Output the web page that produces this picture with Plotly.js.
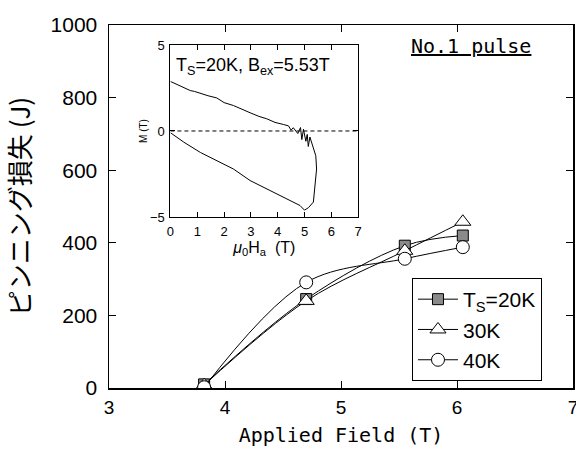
<!DOCTYPE html>
<html>
<head>
<meta charset="utf-8">
<script src="https://cdn.plot.ly/plotly-3.0.1.min.js"></script>
<style>html,body{margin:0;padding:0;background:#fff;}</style>
</head>
<body>
<div id="chart" style="width:576px;height:450px;"></div>
<script>
// Main chart data
const fieldT = [3.82, 4.70, 5.55, 6.05];
const loss20K = [10, 245, 392, 420];
const loss30K = [8, 240, 378, 458];
const loss40K = [2, 291, 356, 388];
const seriesNames = ['T<sub>S</sub>=20K', '30K', '40K'];

// Inset M-H loop data (T_S=20K, B_ex=5.53T)
const insetH = [0, 0.5, 1.12, 1.73, 2.35, 2.97, 3.59, 4.21, 4.83, 5.0, 5.15, 5.33, 5.39, 5.45, 5.42, 5.33, 5.2, 5.14, 5.1, 5.05, 4.96, 4.9, 4.85, 4.75, 4.58, 4.5, 4.4, 4.21, 3.9, 3.59, 3.3, 2.97, 2.6, 2.35, 2.0, 1.73, 1.4, 1.12, 0.9, 0.74, 0.4, 0];
const insetM = [-0.1, -0.65, -1.25, -1.73, -2.21, -2.88, -3.37, -3.85, -4.33, -4.6, -4.45, -4.13, -3.17, -2.21, -1.44, -0.96, -0.35, -0.9, -0.2, -0.6, 0.1, -0.5, 0.2, -0.15, 0.19, 0.05, 0.3, 0.38, 0.5, 0.71, 0.85, 1.06, 1.3, 1.48, 1.65, 1.92, 2.05, 2.21, 2.3, 2.35, 2.6, 2.88];
const zeroLineH = [0, 7];
const zeroLineM = [0, 0];

const tickFont = {family: 'Liberation Sans Narrow, Liberation Sans, Arial', color: '#000'};

const traces = [
  {x: fieldT, y: loss20K, name: seriesNames[0], mode: 'lines+markers', line: {color: '#000', width: 1, shape: 'spline'},
   marker: {symbol: 'square', size: 11, color: '#8a8a8a', line: {color: '#000', width: 1}}},
  {x: fieldT, y: loss30K, name: seriesNames[1], mode: 'lines+markers', line: {color: '#000', width: 1, shape: 'spline'},
   marker: {symbol: 'triangle-up', size: 14, color: '#fff', line: {color: '#000', width: 1}}},
  {x: fieldT, y: loss40K, name: seriesNames[2], mode: 'lines+markers', line: {color: '#000', width: 1, shape: 'spline'},
   marker: {symbol: 'circle', size: 13, color: '#fff', line: {color: '#000', width: 1}}},
  {x: zeroLineH, y: zeroLineM, xaxis: 'x2', yaxis: 'y2', mode: 'lines', showlegend: false, hoverinfo: 'skip',
   line: {color: '#000', width: 1, dash: '4px,3px'}},
  {x: insetH, y: insetM, xaxis: 'x2', yaxis: 'y2', mode: 'lines', showlegend: false,
   line: {color: '#000', width: 1}}
];

const layout = {
  width: 576, height: 450,
  margin: {l: 109, r: 3, t: 25, b: 62},
  paper_bgcolor: '#fff', plot_bgcolor: '#fff',
  showlegend: true,
  legend: {x: 0.653, y: 0.303, xanchor: 'left', yanchor: 'top', bgcolor: '#fff', bordercolor: '#000', borderwidth: 1,
           font: {family: 'Liberation Sans Narrow, Liberation Sans, Arial', size: 21, color: '#000'}, itemwidth: 40, tracegroupgap: 0},
  xaxis: {range: [3, 7], tickvals: [3, 4, 5, 6, 7], ticks: 'inside', ticklen: 7, tickwidth: 1, tickcolor: '#000',
          showline: true, linecolor: '#000', linewidth: 1.5, mirror: 'ticks', showgrid: false, zeroline: false,
          tickfont: Object.assign({size: 19}, tickFont), ticklabelstandoff: 2, ticklabeloverflow: 'allow',
          title: {text: 'Applied Field (T)', font: {family: 'DejaVu Sans Mono, monospace', size: 20, color: '#000'}, standoff: 10}},
  yaxis: {range: [0, 1000], tickvals: [0, 200, 400, 600, 800, 1000], ticks: 'inside', ticklen: 7, tickwidth: 1, tickcolor: '#000',
          showline: true, linecolor: '#000', linewidth: 1.5, mirror: 'ticks', showgrid: false, zeroline: false,
          tickfont: Object.assign({size: 21}, tickFont), ticklabelstandoff: 6,
          title: {text: 'ピンニング損失 (J)', font: {family: 'Noto Sans CJK JP', size: 26, color: '#000'}, standoff: 12}},
  xaxis2: {domain: [0.1324, 0.537], anchor: 'y2', range: [0, 7], tickvals: [0, 1, 2, 3, 4, 5, 6, 7], ticks: 'inside', ticklen: 5,
           tickcolor: '#000', showline: true, linecolor: '#000', linewidth: 1, mirror: 'ticks', showgrid: false, zeroline: false,
           tickfont: Object.assign({size: 13}, tickFont), ticklabelstandoff: 2,
           title: {text: '<i>μ</i><sub>0</sub>H<sub>a</sub>  (T)', font: {family: 'Liberation Sans Narrow, Liberation Sans', size: 16, color: '#000'}, standoff: 2}},
  yaxis2: {domain: [0.471, 0.945], anchor: 'x2', range: [-5, 5], tickvals: [-5, 0, 5], ticks: 'inside', ticklen: 5,
           tickcolor: '#000', showline: true, linecolor: '#000', linewidth: 1, mirror: 'ticks', showgrid: false, zeroline: false,
           tickfont: Object.assign({size: 13}, tickFont), ticklabelstandoff: 2,
           title: {text: 'M (T)', font: {family: 'Liberation Sans Narrow, Liberation Sans', size: 10, color: '#000'}, standoff: 0}},
  annotations: [
    {xref: 'paper', yref: 'paper', x: 0.14, y: 0.885, xanchor: 'left', yanchor: 'middle', showarrow: false,
     text: 'T<sub>S</sub>=20K, B<sub>ex</sub>=5.53T', font: {family: 'Liberation Sans Narrow, Liberation Sans', size: 18, color: '#000'}},
    {xref: 'paper', yref: 'paper', x: 0.78, y: 0.943, xanchor: 'center', yanchor: 'middle', showarrow: false,
     text: 'No.1 pulse', font: {family: 'DejaVu Sans Mono, monospace', size: 20, color: '#000', lineposition: 'under'}}
  ]
};

Plotly.newPlot('chart', traces, layout, {displayModeBar: false, staticPlot: true});
</script>
</body>
</html>
